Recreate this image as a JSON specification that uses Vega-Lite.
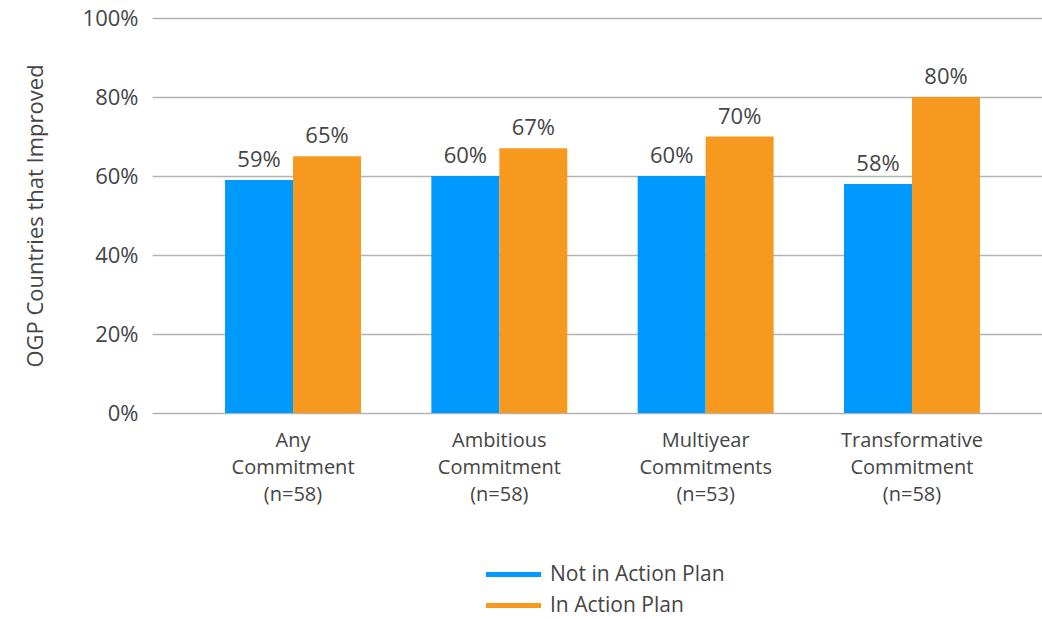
{
  "$schema": "https://vega.github.io/schema/vega-lite/v6.json",
  "width": 888,
  "height": 395,
  "autosize": "none",
  "padding": {"left": 152, "top": 18, "right": 2, "bottom": 206},
  "background": "white",
  "config": {
    "font": "Open Sans",
    "view": {"stroke": null},
    "axis": {"labelColor": "#454545", "titleColor": "#454545", "labelFont": "Open Sans", "titleFont": "Open Sans"}
  },
  "data": {
    "values": [
      {"category": "Any|Commitment|(n=58)", "series": "Not in Action Plan", "value": 0.59},
      {"category": "Any|Commitment|(n=58)", "series": "In Action Plan", "value": 0.65},
      {"category": "Ambitious|Commitment|(n=58)", "series": "Not in Action Plan", "value": 0.60},
      {"category": "Ambitious|Commitment|(n=58)", "series": "In Action Plan", "value": 0.67},
      {"category": "Multiyear|Commitments|(n=53)", "series": "Not in Action Plan", "value": 0.60},
      {"category": "Multiyear|Commitments|(n=53)", "series": "In Action Plan", "value": 0.70},
      {"category": "Transformative|Commitment|(n=58)", "series": "Not in Action Plan", "value": 0.58},
      {"category": "Transformative|Commitment|(n=58)", "series": "In Action Plan", "value": 0.80}
    ]
  },
  "encoding": {
    "x": {
      "field": "category",
      "type": "nominal",
      "sort": null,
      "scale": {"range": [0, 901], "paddingInner": 0.341, "paddingOuter": 0.354},
      "axis": {
        "title": null,
        "labelAngle": 0,
        "domain": false,
        "ticks": false,
        "labelFontSize": 20,
        "labelPadding": 17,
        "labelLineHeight": 27,
        "labelExpr": "split(datum.label, '|')"
      }
    },
    "xOffset": {
      "field": "series",
      "type": "nominal",
      "sort": ["Not in Action Plan", "In Action Plan"],
      "scale": {"paddingInner": 0, "paddingOuter": 0}
    },
    "y": {
      "field": "value",
      "type": "quantitative",
      "scale": {"domain": [0, 1]},
      "axis": {
        "title": "OGP Countries that Improved",
        "titleFontSize": 22,
        "titleFontWeight": "normal",
        "titlePadding": 35,
        "format": ".0%",
        "values": [0, 0.2, 0.4, 0.6, 0.8, 1],
        "labelOverlap": false,
        "labelFontSize": 22,
        "labelPadding": 14,
        "domain": false,
        "ticks": false,
        "grid": true,
        "gridColor": "#b3b3b3",
        "gridWidth": 1.3
      }
    }
  },
  "layer": [
    {
      "mark": {"type": "bar"},
      "encoding": {
        "color": {
          "field": "series",
          "type": "nominal",
          "sort": ["Not in Action Plan", "In Action Plan"],
          "scale": {"domain": ["Not in Action Plan", "In Action Plan"], "range": ["#0099fe", "#f7991f"]},
          "legend": {
            "title": null,
            "orient": "none",
            "legendX": 329,
            "legendY": 546,
            "direction": "vertical",
            "symbolType": "M-1,0H9",
            "symbolStrokeWidth": 5,
            "symbolSize": 121,
            "labelFontSize": 21,
            "labelColor": "#454545",
            "labelFont": "Open Sans",
            "labelLimit": 400,
            "rowPadding": 9,
            "labelOffset": 48,
            "encode": {
              "symbols": {"update": {"stroke": {"scale": "color", "field": "value"}, "fill": {"value": "transparent"}}}
            }
          }
        }
      }
    },
    {
      "mark": {"type": "text", "baseline": "bottom", "dy": -8, "fontSize": 22, "color": "#454545", "font": "Open Sans"},
      "encoding": {
        "text": {"field": "value", "type": "quantitative", "format": ".0%"}
      }
    }
  ]
}
